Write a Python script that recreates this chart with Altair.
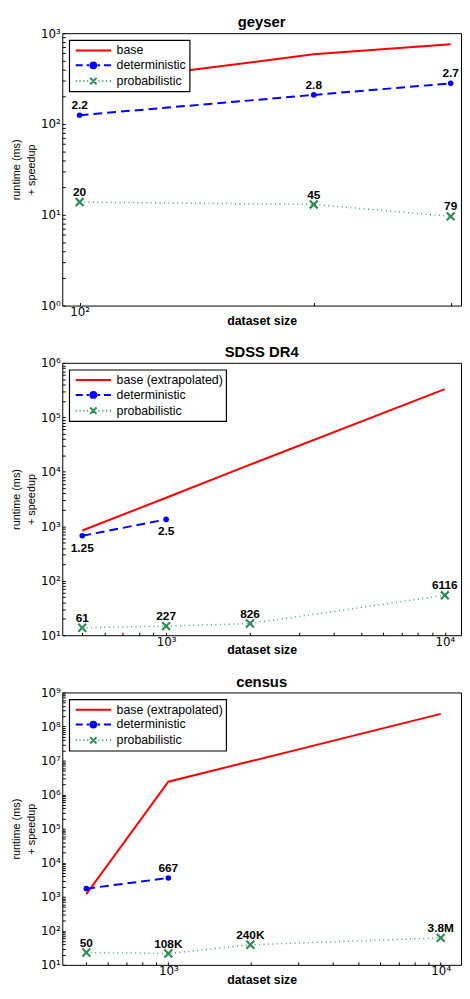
import altair as alt
import pandas as pd

# ---------------- data ----------------
# geyser
g_sizes = [100, 200, 300]
g_base = [275, 585, 755]
g_det_sizes = [100, 200, 300]
g_det = [125, 209, 280]
g_det_speedup = ["2.2", "2.8", "2.7"]
g_prob = [13.8, 13.0, 9.6]
g_prob_speedup = ["20", "45", "79"]

# SDSS DR4
s_sizes = [500, 1000, 2000, 10000]
s_base = [835, 3340, 13500, 330000]
s_det_sizes = [500, 1000]
s_det = [668, 1336]
s_det_speedup = ["1.25", "2.5"]
s_prob = [13.7, 14.7, 16.4, 54]
s_prob_speedup = ["61", "227", "826", "6116"]

# census
c_sizes = [500, 1000, 2000, 10000]
c_base = [1200, 2.4e6, 9.5e6, 2.35e8]
c_det_sizes = [500, 1000]
c_det = [1730, 3560]
c_det_speedup = ["", "667"]
c_prob = [23, 21.5, 39, 62]
c_prob_speedup = ["50", "108K", "240K", "3.8M"]

titles = ["geyser", "SDSS DR4", "census"]
base_names = ["base", "base (extrapolated)", "base (extrapolated)"]

# ---------------- styling ----------------
RED = "#FF0000"
BLUE = "#0000FF"
GREEN = "#2E8B57"
FONT = "Liberation Sans"

X_PATH = "M-1,-1L1,1M-1,1L1,-1"
# legend sample paths (line + marker)
P_BASE = "M-0.6,0H4.9"
P_DET = ("M-0.6,0H0.5M1.1,0H1.5M2.8,0H3.2M3.8,0H4.9"
         "M2.6,0A0.45,0.45,0,1,1,1.7,0A0.45,0.45,0,1,1,2.6,0Z"
         "M2.35,0A0.2,0.2,0,1,1,1.95,0A0.2,0.2,0,1,1,2.35,0Z")
P_PROB = ("M-0.6,0H-0.45M0.0,0H0.15M0.6,0H0.75M1.2,0H1.35"
          "M1.65,-0.5L2.65,0.5M1.65,0.5L2.65,-0.5"
          "M2.95,0H3.1M3.55,0H3.7M4.15,0H4.3M4.75,0H4.9")

SUP = "['⁰','¹','²','³','⁴','⁵','⁶','⁷','⁸','⁹']"
LABEL_EXPR = ("abs(log(datum.value)/LN10 - round(log(datum.value)/LN10)) < 0.001 ? "
              "'10' + " + SUP + "[round(log(datum.value)/LN10)] : ''")

W = 404
H = 276


def log_ticks(lo_exp, hi_exp):
    vals = []
    for e in range(lo_exp, hi_exp):
        for m in range(1, 10):
            vals.append(m * 10 ** e)
    vals.append(10 ** hi_exp)
    return vals


def make_df(base_name, sizes, base, det_sizes, det, det_lab, prob, prob_lab):
    rows = []
    for s, v in zip(sizes, base):
        rows.append(dict(series=base_name, size=s, value=v, label=""))
    for s, v, l in zip(det_sizes, det, det_lab):
        rows.append(dict(series="deterministic", size=s, value=v, label=l))
    for s, v, l in zip(sizes, prob, prob_lab):
        rows.append(dict(series="probabilistic", size=s, value=v, label=l))
    return pd.DataFrame(rows)


def panel(title, base_name, df, xdom, xvals, ydom, yvals, det_below):
    names = [base_name, "deterministic", "probabilistic"]
    x = alt.X("size:Q",
              scale=alt.Scale(type="log", domain=xdom, nice=False),
              axis=alt.Axis(values=xvals, labelExpr=LABEL_EXPR, title="dataset size",
                            offset=-3, tickSize=3, labelPadding=1, titlePadding=-3,
                            titleFontSize=12.5, titleFontWeight="bold",
                            labelOverlap=False, labelFlush=False))
    y = alt.Y("value:Q",
              scale=alt.Scale(type="log", domain=ydom, nice=False),
              axis=alt.Axis(values=yvals, labelExpr=LABEL_EXPR,
                            title=["runtime (ms)", "+ speedup"],
                            offset=-3, tickSize=3, labelPadding=2, titlePadding=4,
                            titleFontSize=11, titleFontWeight="normal", titleLineHeight=15,
                            labelOverlap=False))
    ch = alt.Chart(df)

    legend_layer = ch.mark_point(filled=False, strokeWidth=2, opacity=1).transform_calculate(
        zero="0"
    ).encode(
        x=x, y=y,
        color=alt.Color("series:N", scale=alt.Scale(domain=names, range=[RED, BLUE, GREEN]),
                        legend=alt.Legend(title=None)),
        shape=alt.Shape("series:N", scale=alt.Scale(domain=names, range=[P_BASE, P_DET, P_PROB]),
                        legend=alt.Legend(title=None)),
        size=alt.Size("zero:Q", scale=None),
    )

    base_line = ch.transform_filter(alt.datum.series == base_name).mark_line(
        color=RED, strokeWidth=2).encode(x=x, y=y)
    det_line = ch.transform_filter(alt.datum.series == "deterministic").mark_line(
        color=BLUE, strokeWidth=2, strokeDash=[9, 5]).encode(x=x, y=y)
    det_pts = ch.transform_filter(alt.datum.series == "deterministic").mark_point(
        color=BLUE, filled=True, shape="circle", size=32, opacity=1).encode(x=x, y=y)
    prob_line = ch.transform_filter(alt.datum.series == "probabilistic").mark_line(
        color=GREEN, strokeWidth=1.5, strokeDash=[1, 3.5], opacity=0.85).encode(x=x, y=y)
    prob_pts = ch.transform_filter(alt.datum.series == "probabilistic").mark_point(
        color=GREEN, filled=False, shape=X_PATH, size=64, strokeWidth=2.2, opacity=1).encode(x=x, y=y)

    det_txt = ch.transform_filter(
        (alt.datum.series == "deterministic") & (alt.datum.label != "")
    ).mark_text(font=FONT, fontSize=12, fontWeight="bold", color="black",
                dy=(12 if det_below else -10)).encode(x=x, y=y, text="label:N")
    prob_txt = ch.transform_filter(
        (alt.datum.series == "probabilistic") & (alt.datum.label != "")
    ).mark_text(font=FONT, fontSize=12, fontWeight="bold", color="black",
                dy=-10).encode(x=x, y=y, text="label:N")

    return alt.layer(
        legend_layer, base_line, det_line, prob_line, det_pts, prob_pts, det_txt, prob_txt
    ).properties(
        width=W, height=H,
        title=alt.TitleParams(text=title, fontSize=15, fontWeight="bold", font=FONT,
                              anchor="middle", frame="group", offset=-3, color="black"),
    )


df1 = make_df(base_names[0], g_sizes, g_base, g_det_sizes, g_det, g_det_speedup, g_prob, g_prob_speedup)
df2 = make_df(base_names[1], s_sizes, s_base, s_det_sizes, s_det, s_det_speedup, s_prob, s_prob_speedup)
df3 = make_df(base_names[2], c_sizes, c_base, c_det_sizes, c_det, c_det_speedup, c_prob, c_prob_speedup)

p1 = panel(titles[0], base_names[0], df1, [95, 309.3], [100, 200, 300],
           [1, 1000], log_ticks(0, 3), det_below=False)
p2 = panel(titles[1], base_names[1], df2, [424, 11431], log_ticks(2, 4)[4:],
           [10, 1e6], log_ticks(1, 6), det_below=True)
p3 = panel(titles[2], base_names[2], df3, [408, 11869], log_ticks(2, 4)[3:],
           [10, 1e9], log_ticks(1, 9), det_below=False)

chart = alt.vconcat(p1, p2, p3, spacing=17).resolve_scale(
    color="independent", shape="independent"
).resolve_legend(
    color="independent", shape="independent"
).properties(
    padding={"left": 2, "top": 0, "right": 0, "bottom": 0},
    background="white",
).configure_view(
    stroke="black", strokeWidth=1
).configure_axis(
    grid=False, domain=False, tickColor="black", labelColor="black", titleColor="black",
    labelFont="DejaVu Sans", labelFontSize=12, titleFont=FONT,
).configure_legend(
    orient="top-left", offset=7, strokeColor="black", strokeWidth=1.2, fillColor="white",
    padding=3, rowPadding=1, symbolSize=169, symbolStrokeWidth=2,
    labelFont=FONT, labelFontSize=12.5, labelColor="black", labelOffset=30,
)

chart.save("out.html", embed_options={"renderer": "svg", "actions": False})
